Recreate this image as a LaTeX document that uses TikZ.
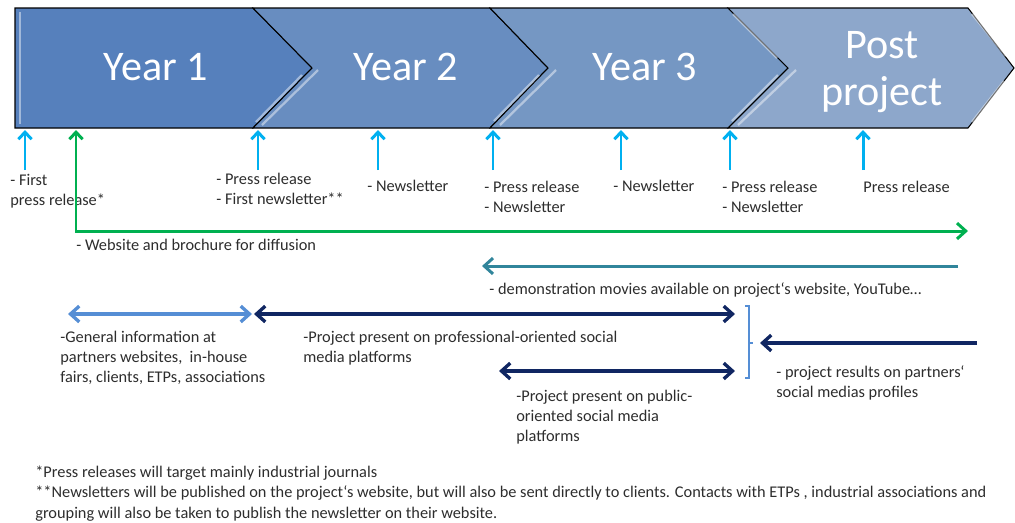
\documentclass[tikz,border=0pt]{standalone}
\usepackage{fontspec}
\setmainfont{Carlito}
\usetikzlibrary{arrows.meta}
\definecolor{yearone}{RGB}{86,128,188}
\definecolor{yeartwo}{RGB}{104,141,192}
\definecolor{yearthree}{RGB}{117,151,195}
\definecolor{postproj}{RGB}{141,167,203}
\definecolor{evtcyan}{RGB}{0,176,240}
\definecolor{webgreen}{RGB}{0,176,80}
\definecolor{movieteal}{RGB}{49,133,155}
\definecolor{infoblue}{RGB}{85,142,213}
\definecolor{socialnavy}{RGB}{16,38,98}
\definecolor{txtgray}{RGB}{45,45,45}
\begin{document}
\begin{tikzpicture}[x=0.02cm,y=-0.02cm,
  phase/.style={draw=black,line width=0.6pt},
  bevel/.style={draw=white,opacity=0.45,line width=1.3pt},
  phasetext/.style={text=white,font=\fontsize{24}{27}\selectfont,align=center},
  txt/.style={anchor=base west,inner sep=0pt,align=left,text=txtgray,font=\fontsize{9.3}{11.2}\selectfont},
  note/.style={txt,font=\fontsize{9.3}{11.8}\selectfont},
  evt/.style={draw=evtcyan,line width=1.7pt,-{Straight Barb[length=4pt,width=7.5pt]}},
  webline/.style={draw=webgreen,line width=1.7pt,{Straight Barb[length=4pt,width=7.5pt]}-{Straight Barb[length=5pt,width=9pt]}},
  movieline/.style={draw=movieteal,line width=1.7pt,-{Straight Barb[length=5pt,width=9pt]}},
  infoline/.style={draw=infoblue,line width=1.9pt,{Straight Barb[length=5pt,width=9pt]}-{Straight Barb[length=5pt,width=9pt]}},
  socialline/.style={draw=socialnavy,line width=1.9pt,{Straight Barb[length=5pt,width=9pt]}-{Straight Barb[length=5pt,width=9pt]}},
  resultline/.style={draw=socialnavy,line width=1.9pt,-{Straight Barb[length=5pt,width=9pt]}}
]
\useasboundingbox (0,0) rectangle (1015,522);

% phases
\path[phase,fill=yearone] (15,8) -- (253,8) -- (312,68) -- (253,128) -- (15,128) -- cycle;
\path[phase,fill=yeartwo] (253,8) -- (490,8) -- (548,68) -- (490,128) -- (253,128) -- (312,68) -- cycle;
\path[phase,fill=yearthree] (490,8) -- (728,8) -- (788,68) -- (728,128) -- (490,128) -- (548,68) -- cycle;
\path[phase,fill=postproj] (728,8) -- (968,8) -- (1014,68) -- (968,128) -- (728,128) -- (788,68) -- cycle;
\draw[bevel] (20,12) -- (20,124);
\draw[bevel] (256,122) -- (302,75);
\draw[bevel] (262,125) -- (318,70);
\draw[bevel] (494,121) -- (539,75);
\draw[bevel] (500,125) -- (556,70);
\draw[bevel] (733,14) -- (777,58);
\draw[bevel] (732,121) -- (778,75);
\draw[bevel] (738,125) -- (796,70);
\draw[bevel] (972,14) -- (1006,56);
\draw[bevel] (972,122) -- (1004,81);

\node[phasetext] (y1) at (156,67) {Year 1};
\node[phasetext] (y2) at (406,67) {Year 2};
\node[phasetext] (y3) at (645,67) {Year 3};
\node[phasetext] (post) at (882,72) {Post\\project};

% events (base = last line)
\node[txt] (firstpr) at (10,205) {- First\\press release*};
\node[txt] (pr2) at (216,204) {- Press release\\- First newsletter**};
\node[txt] (nl2) at (367,191) {- Newsletter};
\node[txt] (pr3) at (484,212) {- Press release\\- Newsletter};
\node[txt] (nl3) at (613,191) {- Newsletter};
\node[txt] (pr4) at (722,212) {- Press release\\- Newsletter};
\node[txt] (prpost) at (863,192) {Press release};

\foreach \i/\x in {1/25,2/258,3/378,4/493,5/621,6/730,7/863} {
  \coordinate (s\i) at (\x,170);
  \coordinate (p\i) at (\x,130);
  \draw[evt] (s\i) -- (p\i);
}

% diffusion
\coordinate (g0) at (76,130);
\coordinate (g1) at (76,231);
\coordinate (g2) at (968,231);
\draw[webline] (g0) -- (g1) -- (g2);
\node[txt] (web) at (76,250) {- Website and brochure for diffusion};

\coordinate (m0) at (958,266);
\coordinate (m1) at (482,266);
\draw[movieline] (m0) -- (m1);
\node[txt] (movies) at (489,294) {- demonstration movies available on project‘s website, YouTube…};

% social media
\coordinate (i0) at (68,314);
\coordinate (i1) at (252,314);
\coordinate (n0) at (254,314);
\coordinate (n1) at (735,314);
\coordinate (u0) at (499,371);
\coordinate (u1) at (735,371);
\draw[infoline] (i0) -- (i1);
\draw[socialline] (n0) -- (n1);
\draw[socialline] (u0) -- (u1);
\node[txt] (general) at (60,382) {-General information at\\partners websites,~~in-house\\fairs, clients, ETPs, associations};
\node[txt] (profsoc) at (303,362) {-Project present on professional-oriented social\\media platforms};
\node[txt] (pubsoc) at (516,441) {-Project present on public-\\oriented social media\\platforms};

\coordinate (b0) at (745,306);
\coordinate (b1) at (749,306);
\coordinate (b2) at (749,378);
\coordinate (b3) at (745,378);
\coordinate (bm) at (749,343);
\draw[infoblue,line width=0.7pt] (b0) -- (b1) -- (b2) -- (b3);
\draw[infoblue,line width=0.7pt] (bm) -- ++(4,0);

\coordinate (r0) at (977,343);
\coordinate (r1) at (760,343);
\draw[resultline] (r0) -- (r1);
\node[txt] (results) at (776,397) {- project results on partners‘\\social medias profiles};

% footnotes
\node[note] (note1) at (35,477) {*Press releases will target mainly industrial journals};
\node[note] (note2) at (35,518) {**Newsletters will be published on the project‘s website, but will also be sent directly to clients. Contacts with ETPs , industrial associations and\\grouping will also be taken to publish the newsletter on their website.};
\end{tikzpicture}
\end{document}
